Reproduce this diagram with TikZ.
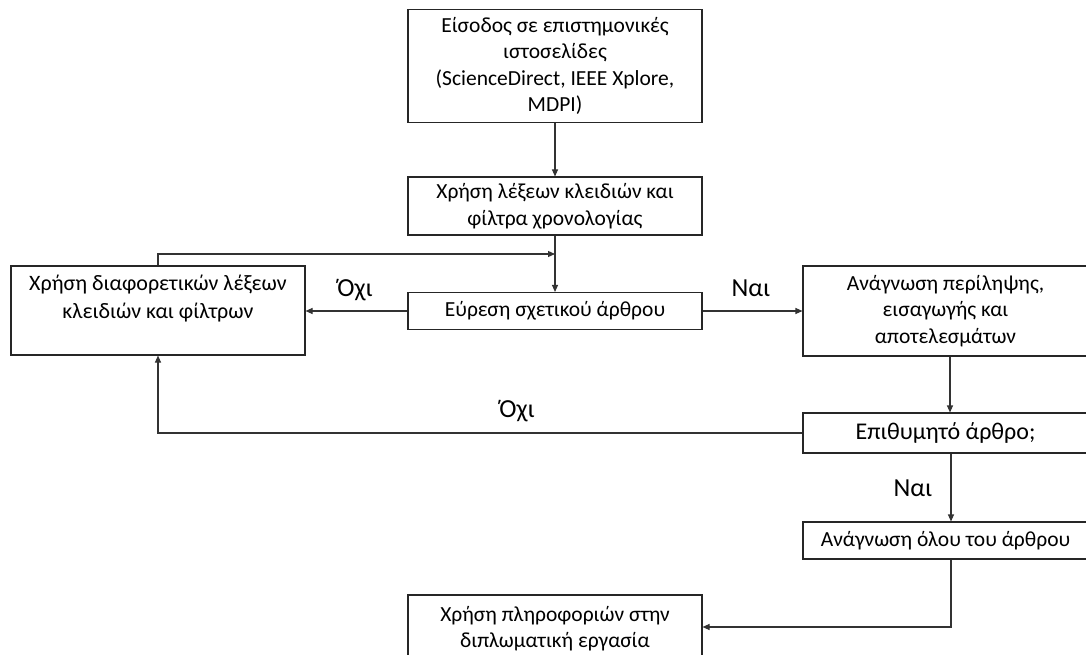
\documentclass[tikz,border=0pt]{standalone}
\usepackage{fontspec}
\setmainfont{Carlito}
\usetikzlibrary{arrows.meta}
\begin{document}
\begin{tikzpicture}[x=1pt,y=-1pt,
  box/.style={draw=black!85, line width=1.1pt, rectangle, align=center, inner sep=0pt,
    font=\fontsize{21.5}{26.5}\selectfont},
  conn/.style={draw=black!80, line width=1.1pt},
  arr/.style={conn, -{Triangle[length=7pt,width=6pt]}},
  lbl/.style={font=\fontsize{26}{28}\selectfont}]
\useasboundingbox (0,0) rectangle (1086,655);
\clip (0,0) rectangle (1086,655);
% nodes
\node[box, minimum width=294pt, minimum height=113pt] (n1) at (555,66)
  {Είσοδος σε επιστημονικές\\ιστοσελίδες\\(ScienceDirect, IEEE Xplore,\\MDPI)};
\node[box, minimum width=294pt, minimum height=58pt] (n2) at (555,206)
  {Χρήση λέξεων κλειδιών και\\φίλτρα χρονολογίας};
\node[box, minimum width=294pt, minimum height=37pt] (n3) at (555,311)
  {Εύρεση σχετικού άρθρου};
\node[box, minimum width=294pt, minimum height=89pt, font=\fontsize{22}{28}\selectfont] (nL) at (158,310.5)
  {Χρήση διαφορετικών λέξεων\\κλειδιών και φίλτρων\\\mbox{}};
\node[box, minimum width=285pt, minimum height=90pt] (nR) at (945.5,311)
  {Ανάγνωση περίληψης,\\εισαγωγής και\\αποτελεσμάτων};
\node[box, minimum width=285pt, minimum height=40pt, font=\fontsize{24}{28}\selectfont] (nQ) at (945.5,433)
  {Επιθυμητό άρθρο;};
\node[box, minimum width=285pt, minimum height=37pt] (nF) at (945.5,540.5)
  {Ανάγνωση όλου του άρθρου};
\node[box, minimum width=294pt, minimum height=90pt] (nB) at (555,640)
  {Χρήση πληροφοριών στην\\διπλωματική εργασία\\\mbox{}};
% connectors
\coordinate (j1) at (555,254);
\draw[arr] (n1) -- (n2);
\draw[arr] (n2) -- (n3);
\draw[arr] (nL.north) |- (j1);
\draw[arr] (n3.west) -- (n3.west -| nL.east);
\node[lbl] (o1) at (355,290) {Όχι};
\draw[arr] (n3.east) -- (n3.east -| nR.west);
\node[lbl] (y1) at (751,288) {Ναι};
\draw[arr] ([xshift=4.5pt]nR.south) -- ([xshift=4.5pt]nQ.north);
\draw[arr] (nQ.west) -| (nL.south);
\node[lbl] (o2) at (517,411) {Όχι};
\draw[arr] ([xshift=5.5pt]nQ.south) -- ([xshift=5.5pt]nF.north);
\node[lbl] (y2) at (913,488) {Ναι};
\draw[arr] ([xshift=5.5pt]nF.south) |- ([yshift=13pt]nB.east);
\end{tikzpicture}
\end{document}
